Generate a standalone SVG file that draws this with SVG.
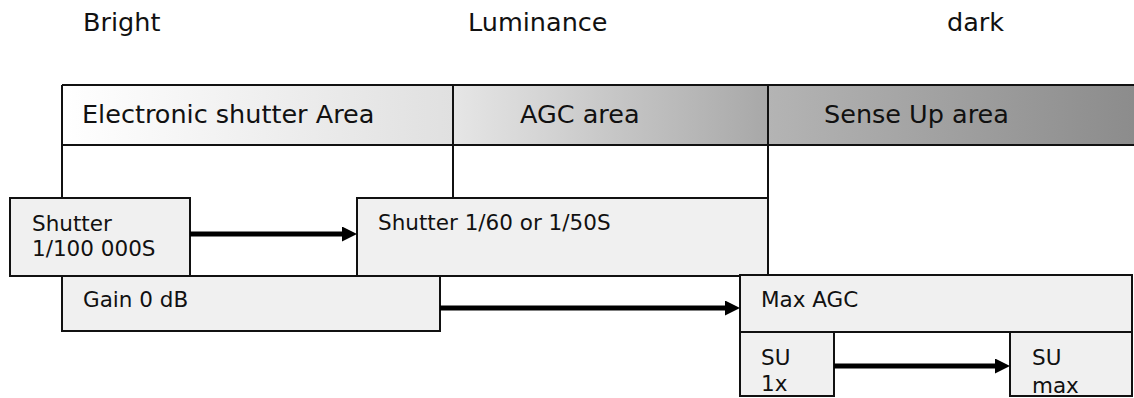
<svg xmlns="http://www.w3.org/2000/svg" width="1134" height="398" viewBox="0 0 1134 398">
  <style>
    .t { font-family: "DejaVu Sans", Verdana, sans-serif; fill: #111; }
    .top { font-size: 25.5px; }
    .hdr { font-size: 25.5px; }
    .bx { font-size: 21.5px; }
    .box { fill: #f0f0f0; stroke: #111; stroke-width: 2; }
    .ln { stroke: #111; stroke-width: 2; fill: none; }
    .arr { stroke: #000; stroke-width: 5; fill: none; marker-end: url(#ah); }
  </style>
  <defs>
    <linearGradient id="g1" x1="0" y1="0" x2="1" y2="0">
      <stop offset="0" stop-color="#ffffff"/>
      <stop offset="1" stop-color="#e0e0e0"/>
    </linearGradient>
    <linearGradient id="g2" x1="0" y1="0" x2="1" y2="0">
      <stop offset="0" stop-color="#e6e6e6"/>
      <stop offset="1" stop-color="#a8a8a8"/>
    </linearGradient>
    <linearGradient id="g3" x1="0" y1="0" x2="1" y2="0">
      <stop offset="0" stop-color="#b4b4b4"/>
      <stop offset="1" stop-color="#8c8c8c"/>
    </linearGradient>
    <marker id="ah" viewBox="0 0 15 15" markerWidth="15" markerHeight="15" markerUnits="userSpaceOnUse" refX="3" refY="7.5" orient="auto">
      <path d="M0,0 L15,7.5 L0,15 z" fill="#000"/>
    </marker>
  </defs>

  <g id="scale-labels">
    <text class="t top" x="83" y="31">Bright</text>
    <text class="t top" x="468" y="31">Luminance</text>
    <text class="t top" x="947" y="31">dark</text>
  </g>

  <g id="header">
    <rect x="62" y="85" width="391" height="60" fill="url(#g1)"/>
    <rect x="453" y="85" width="315" height="60" fill="url(#g2)"/>
    <rect x="768" y="85" width="366" height="60" fill="url(#g3)"/>
    <path class="ln" d="M62,85 H1134 M62,145 H1134 M62,85 V198 M453,85 V198 M768,85 V275"/>
    <text class="t hdr" x="82" y="123">Electronic shutter Area</text>
    <text class="t hdr" x="520" y="123">AGC area</text>
    <text class="t hdr" x="824" y="123">Sense Up area</text>
  </g>

  <g id="shutter-fast">
    <rect class="box" x="10" y="198" width="180" height="78"/>
    <text class="t bx" x="32" y="231">Shutter</text>
    <text class="t bx" x="32" y="256">1/100 000S</text>
  </g>

  <g id="shutter-slow">
    <rect class="box" x="357" y="198" width="411" height="78"/>
    <text class="t bx" x="378" y="230">Shutter 1/60 or 1/50S</text>
  </g>

  <g id="gain">
    <rect class="box" x="62" y="276" width="378" height="55"/>
    <text class="t bx" x="83" y="307">Gain 0 dB</text>
  </g>

  <g id="max-agc">
    <rect class="box" x="740" y="275" width="392" height="57"/>
    <text class="t bx" x="761" y="307">Max AGC</text>
  </g>

  <g id="su-1x">
    <rect class="box" x="740" y="332" width="94" height="64"/>
    <text class="t bx" x="761" y="365">SU</text>
    <text class="t bx" x="761" y="391">1x</text>
  </g>

  <g id="su-max">
    <rect class="box" x="1010" y="332" width="122" height="64"/>
    <text class="t bx" x="1032" y="365">SU</text>
    <text class="t bx" x="1032" y="393">max</text>
  </g>

  <g id="connectors">
    <line class="arr" x1="190" y1="234" x2="345" y2="234"/>
    <line class="arr" x1="440" y1="308" x2="728" y2="308"/>
    <line class="arr" x1="834" y1="366" x2="998" y2="366"/>
  </g>
</svg>
